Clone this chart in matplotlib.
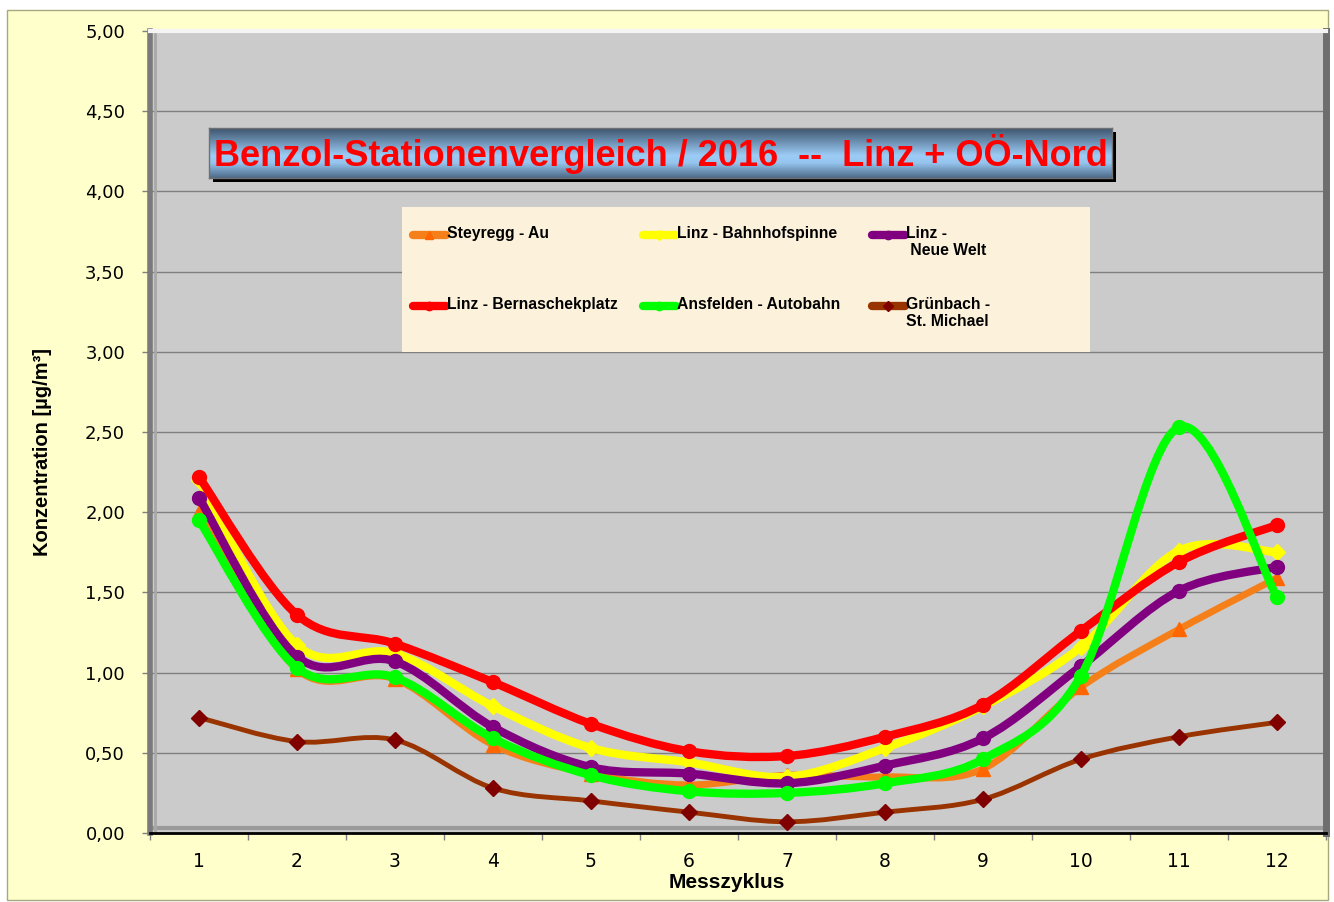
import numpy as np
import matplotlib
matplotlib.use("Agg")
import matplotlib.pyplot as plt
from matplotlib.path import Path
from matplotlib.patches import PathPatch, Rectangle
from matplotlib.lines import Line2D

# ---------------- data ----------------
cycles = [1, 2, 3, 4, 5, 6, 7, 8, 9, 10, 11, 12]
steyregg = [2.00, 1.02, 0.96, 0.55, 0.37, 0.30, 0.36, 0.35, 0.40, 0.91, 1.27, 1.59]
bahnhof = [2.20, 1.17, 1.12, 0.79, 0.53, 0.44, 0.35, 0.53, 0.79, 1.16, 1.76, 1.75]
neuewelt = [2.09, 1.10, 1.07, 0.66, 0.41, 0.37, 0.31, 0.42, 0.59, 1.04, 1.51, 1.66]
bernaschek = [2.22, 1.36, 1.18, 0.94, 0.68, 0.51, 0.48, 0.60, 0.80, 1.26, 1.69, 1.92]
ansfelden = [1.95, 1.03, 0.97, 0.59, 0.36, 0.26, 0.25, 0.31, 0.46, 0.98, 2.53, 1.47]
gruenbach = [0.72, 0.57, 0.58, 0.28, 0.20, 0.13, 0.07, 0.13, 0.21, 0.46, 0.60, 0.69]

series_names = ["Steyregg - Au", "Linz - Bahnhofspinne", "Linz -\n Neue Welt",
                "Linz - Bernaschekplatz", "Ansfelden - Autobahn", "Grünbach -\nSt. Michael"]
y_ticks = [0.0, 0.5, 1.0, 1.5, 2.0, 2.5, 3.0, 3.5, 4.0, 4.5, 5.0]
title = "Benzol-Stationenvergleich / 2016  --  Linz + OÖ-Nord"
x_label = "Messzyklus"
y_label = "Konzentration [µg/m³]"

# ---------------- styles ----------------
styles = [
    dict(color="#F5801A", mfc="#FF6600", marker="^", lw=5.0, ms=10),
    dict(color="#FFFF00", mfc="#FFFF00", marker="D", lw=6.0, ms=8),
    dict(color="#800080", mfc="#800080", marker="o", lw=6.0, ms=10),
    dict(color="#FF0000", mfc="#FF0000", marker="o", lw=6.0, ms=10),
    dict(color="#00FF00", mfc="#00FF00", marker="o", lw=6.0, ms=10),
    dict(color="#993300", mfc="#800000", marker="D", lw=3.5, ms=8),
]
all_series = [steyregg, bahnhof, neuewelt, bernaschek, ansfelden, gruenbach]

W, H = 1334, 902
def fx(px):
    return px / W
def fy(py):
    return 1 - py / H

fig = plt.figure(figsize=(W / 100, H / 100), dpi=100, facecolor="white")

# chart area background
fig.patches.append(Rectangle((fx(7), fy(900)), fx(1328) - fx(7), fy(10) - fy(900),
                             transform=fig.transFigure, facecolor="#FFFFCC",
                             edgecolor="#A8A880", lw=1.0, zorder=-5))

# plot area
ax = fig.add_axes([fx(150), fy(833), fx(1326) - fx(150), fy(31) - fy(833)], zorder=0)
ax.set_facecolor("#CBCBCB")
ax.set_xlim(0.5, 12.5)
ax.set_ylim(0, 5)

ax.set_yticks(y_ticks)
ax.set_yticklabels([f"{v:.2f}".replace(".", ",") for v in y_ticks])
ax.set_xticks(np.arange(0.5, 13.0, 1.0))
ax.set_xticklabels([])
ax.set_xticks(cycles, minor=True)
ax.set_xticklabels([str(c) for c in cycles], minor=True)
ax.tick_params(axis="x", which="major", direction="out", length=5, width=1, color="#808080")
ax.tick_params(axis="x", which="minor", length=0, pad=14, labelsize=13.5)
ax.tick_params(axis="y", direction="out", length=6, width=1, color="#808080", pad=12, labelsize=13)
for lbl in ax.get_xticklabels(minor=True) + ax.get_yticklabels():
    lbl.set_fontfamily("DejaVu Sans")
    lbl.set_color("black")

ax.yaxis.grid(True, color="#7F7F7F", lw=1.0)
ax.set_axisbelow(True)

# bevelled border of plot area
ax.spines["left"].set_color("#7A7A7A")
ax.spines["left"].set_linewidth(4)
ax.spines["top"].set_color("#F4F4F4")
ax.spines["top"].set_linewidth(3)
ax.spines["right"].set_color("#6E6E6E")
ax.spines["right"].set_linewidth(5)
ax.spines["bottom"].set_color("#000000")
ax.spines["bottom"].set_linewidth(2)
ax.add_line(Line2D([0, 1], [0.006, 0.006], transform=ax.transAxes, color="#9A9A9A", lw=3, zorder=1.5))
ax.add_line(Line2D([0.004, 0.004], [0, 1], transform=ax.transAxes, color="#A8A8A8", lw=2, zorder=1.5))

ax.set_xlabel(x_label, fontsize=15, fontweight="bold", family="Liberation Sans")
ax.xaxis.set_label_coords((727 - 150) / 1176, -(882 - 833) / 802)
ax.xaxis.label.set_va("center")
ax.set_ylabel(y_label, fontsize=14.5, fontweight="bold", family=["Liberation Sans Narrow", "Liberation Sans"])
ax.yaxis.set_label_coords(-(150 - 43) / 1176, (833 - 452) / 802)
ax.yaxis.label.set_va("center")

# smooth (Catmull-Rom / bezier) lines like spreadsheet "smoothed line"
def smooth_path(xs, ys):
    pts = np.column_stack([xs, ys]).astype(float)
    n = len(pts)
    verts = [pts[0]]
    codes = [Path.MOVETO]
    for i in range(n - 1):
        p0 = pts[i - 1] if i > 0 else pts[i]
        p1 = pts[i]
        p2 = pts[i + 1]
        p3 = pts[i + 2] if i + 2 < n else pts[i + 1]
        c1 = p1 + (p2 - p0) / 6.0
        c2 = p2 - (p3 - p1) / 6.0
        verts += [c1, c2, p2]
        codes += [Path.CURVE4] * 3
    return Path(verts, codes)

for k, (vals, st) in enumerate(zip(all_series, styles)):
    z = 3 + k
    ax.add_patch(PathPatch(smooth_path(cycles, vals), facecolor="none", edgecolor=st["color"],
                           lw=st["lw"], capstyle="round", joinstyle="round", zorder=z))
    ax.plot(cycles, vals, linestyle="none", marker=st["marker"], ms=st["ms"],
            mfc=st["mfc"], mec=st["mfc"], zorder=z + 0.5)

# title box with gradient and shadow
bx0, by0, bx1, by1 = 209, 128, 1112, 178
fig.patches.append(Rectangle((fx(bx0 + 4), fy(by1 + 4)), fx(bx1) - fx(bx0), fy(by0) - fy(by1),
                             transform=fig.transFigure, facecolor="black", edgecolor="none", zorder=1))
tax = fig.add_axes([fx(bx0), fy(by1), fx(bx1) - fx(bx0), fy(by0) - fy(by1)], zorder=2)
stops = np.array([0.0, 0.55, 0.7, 1.0])
top_c = np.array([0x3E, 0x55, 0x6E]) / 255
mid_c = np.array([0x9C, 0xCC, 0xF6]) / 255
mid2_c = np.array([0x95, 0xC4, 0xEE]) / 255
bot_c = np.array([0x4E, 0x6A, 0x88]) / 255
t = np.linspace(0, 1, 100)
grad = np.zeros((100, 1, 3))
for ch in range(3):
    grad[:, 0, ch] = np.interp(t, stops, [top_c[ch], mid_c[ch], mid2_c[ch], bot_c[ch]])
tax.imshow(grad, aspect="auto", extent=[0, 1, 0, 1], origin="upper")
tax.set_xlim(0, 1)
tax.set_ylim(0, 1)
tax.set_xticks([])
tax.set_yticks([])
for s in tax.spines.values():
    s.set_color("#707070")
    s.set_linewidth(1)
tax.text(0.5, 0.47, title, transform=tax.transAxes, ha="center", va="center",
         color="#FF0000", fontsize=26, fontweight="bold",
         family=["Liberation Sans Narrow", "Liberation Sans"])

# legend box
lx0, ly0, lx1, ly1 = 402, 207, 1090, 352
fig.patches.append(Rectangle((fx(lx0), fy(ly1)), fx(lx1) - fx(lx0), fy(ly0) - fy(ly1),
                             transform=fig.transFigure, facecolor="#FCF2DC", edgecolor="none", zorder=1.5))
cols = [413, 643, 872]
rows = [235, 306]
for k, (name, st) in enumerate(zip(series_names, styles)):
    cx = cols[k % 3]
    cy = rows[k // 3]
    fig.lines.append(Line2D([fx(cx), fx(cx + 33)], [fy(cy), fy(cy)], transform=fig.transFigure,
                            color=st["color"], lw=6, solid_capstyle="round", zorder=3))
    fig.lines.append(Line2D([fx(cx + 16)], [fy(cy)], transform=fig.transFigure, linestyle="none",
                            marker=st["marker"], ms=st["ms"] * 0.6, mfc=st["mfc"], mec=st["mfc"], zorder=3.5))
    fig.text(fx(cx + 34), fy(cy - 9), name, transform=fig.transFigure, ha="left", va="top",
             fontsize=11.3, fontweight="bold", linespacing=1.15,
             family=["Liberation Sans Narrow", "Liberation Sans"], zorder=4)

fig.savefig("out.png", dpi=100, facecolor="white")
